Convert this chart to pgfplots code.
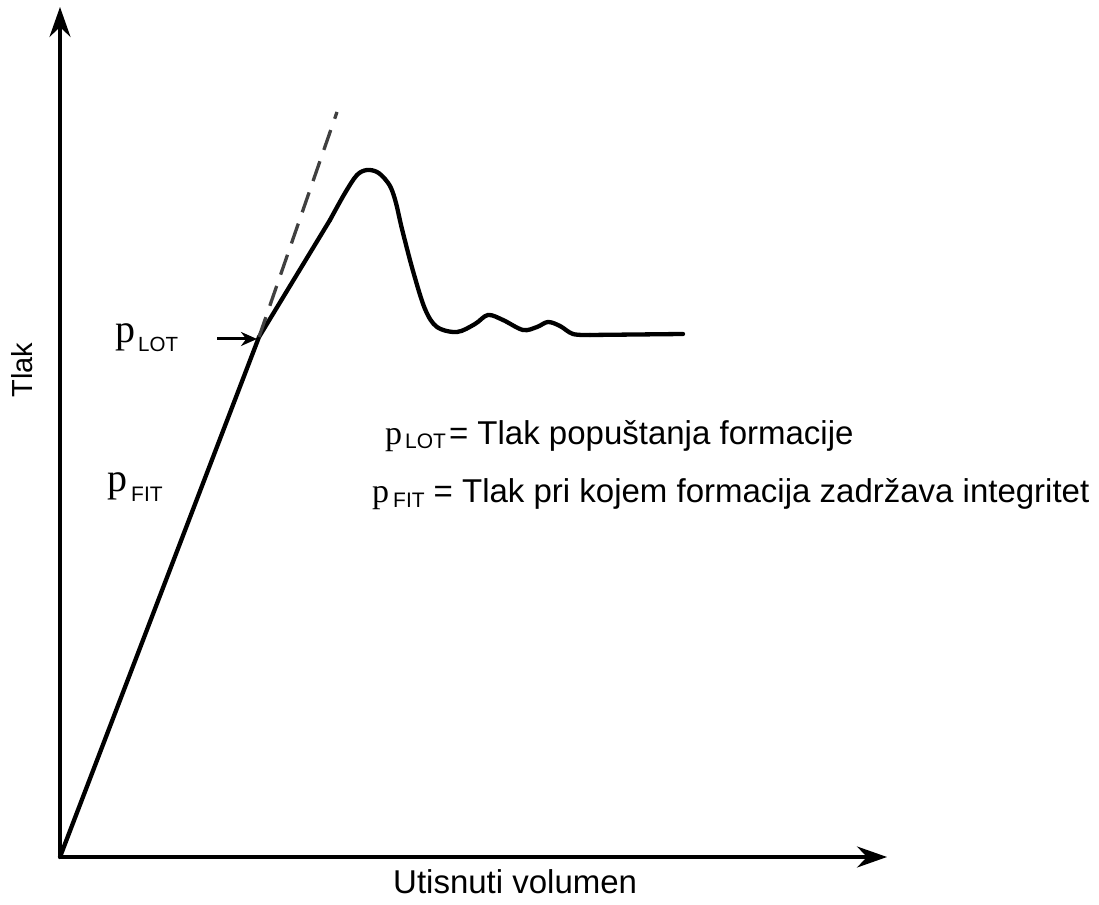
\documentclass[border=0pt]{standalone}
\usepackage{pgfplots}
\pgfplotsset{compat=1.18}
\usepackage{fontspec}
\setmainfont{Liberation Sans}
\newfontfamily\tnr{Liberation Serif}
\usetikzlibrary{arrows.meta}
\begin{document}
\begin{tikzpicture}
\begin{axis}[
  scale only axis, width=827pt, height=850pt,
  xmin=0, xmax=827, ymin=0, ymax=850,
  axis lines=left, xtick=\empty, ytick=\empty,
  axis line style={line width=3.4pt, -{Stealth[length=30pt,width=21pt,inset=10pt]}},
  clip=false,
]
% straight initial loading line
\addplot[black, line width=4.3pt, line cap=round, line join=round] coordinates {
  (0,0) (199,520) (270,637)
};
% smooth peak and oscillations
\addplot[black, line width=4.3pt, line cap=round, smooth, tension=0.55] coordinates {
  (270,637) (285,664) (297,682) (307,687) (317,685) (325,678) (331,669)
  (336,654) (342,628) (353,586) (365,548) (377,530) (397,525) (415,533)
  (428,542) (443,537) (463,527) (477,530) (488,535) (500,531) (513,523) (530,522)
};
% flat plateau
\addplot[black, line width=4.3pt, line cap=round] coordinates {
  (530,522) (623,523)
};
% dashed extrapolation
\addplot[black!75, line width=3.3pt, dash pattern=on 21pt off 12pt] coordinates {
  (199,520) (277,745)
};
% p_LOT pointer
\draw[line width=3pt, -{Stealth[length=16pt,width=14pt]}] (axis cs:157,518) -- (axis cs:197,518);
% labels on the curve
\node[anchor=base west, inner sep=0pt] at (axis cs:55,514)
  {{\fontsize{40}{40}\tnr p}\kern3pt\raisebox{-9pt}{\fontsize{20.5}{20.5}\selectfont LOT}};
\node[anchor=base west, inner sep=0pt] at (axis cs:47,365)
  {{\fontsize{40}{40}\tnr p}\kern4pt\raisebox{-10pt}{\fontsize{21}{21}\selectfont FIT}};
% explanation
\node[anchor=base west, inner sep=0pt] at (axis cs:325,412)
  {{\fontsize{34}{34}\tnr p}\kern3pt\raisebox{-4pt}{\fontsize{21}{21}\selectfont LOT}\kern3pt{\fontsize{33}{33}\selectfont = Tlak popuštanja formacije}};
\node[anchor=base west, inner sep=0pt] at (axis cs:312,354)
  {{\fontsize{34}{34}\tnr p}\kern4pt\raisebox{-5pt}{\fontsize{21}{21}\selectfont FIT}\kern9pt{\fontsize{33}{33}\selectfont = Tlak pri kojem formacija zadržava integritet}};
% axis labels
\node[rotate=90, anchor=base, inner sep=0pt] at (axis cs:-27,487)
  {\fontsize{29}{29}\selectfont Tlak};
\node[anchor=base west, inner sep=0pt] at (axis cs:333,-36)
  {\fontsize{33}{33}\selectfont Utisnuti volumen};
\end{axis}
\pgfresetboundingbox
\path (-60pt,-47pt) rectangle (1039pt,857pt);
\end{tikzpicture}
\end{document}
